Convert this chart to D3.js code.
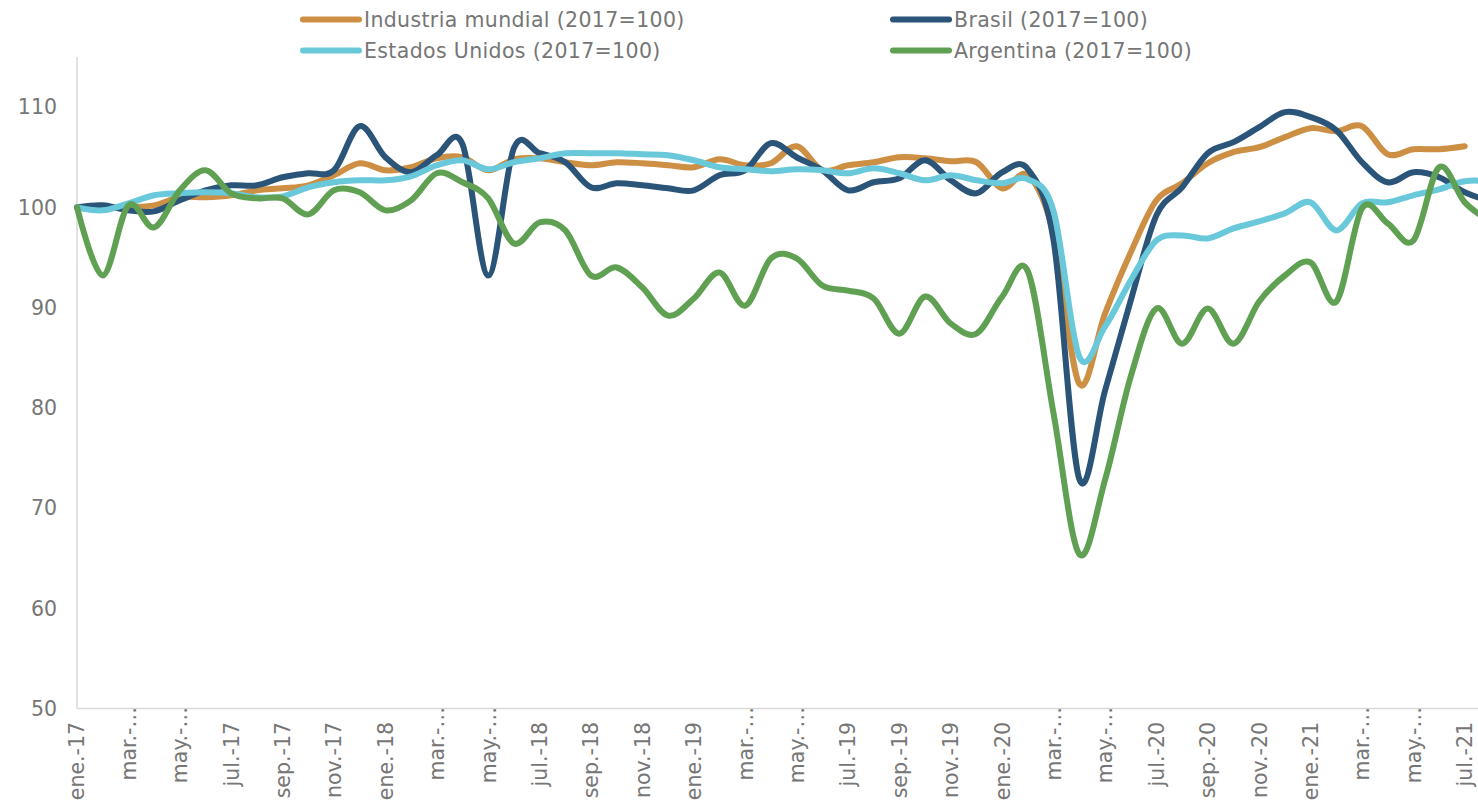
<!DOCTYPE html>
<html>
<head>
<meta charset="utf-8">
<script src="https://cdnjs.cloudflare.com/ajax/libs/d3/7.8.5/d3.min.js"></script>
<style>
  body { margin: 0; background: #fff; }
  svg { display: block; font-family: "DejaVu Sans", Verdana, sans-serif; }
</style>
</head>
<body>
<div id="container"></div>
<script>
// months from ene.-17 to ago.-21
const meses = ["ene.", "feb.", "mar.", "abr.", "may.", "jun.", "jul.", "ago.", "sep.", "oct.", "nov.", "dic."];
const categorias = [];
for (let a = 17; a <= 21; a++) {
  for (let m = 0; m < 12; m++) {
    if (a === 21 && m > 7) break;
    categorias.push(meses[m] + "-" + a);
  }
}

// labels as they show on the axis (mar / may get cut)
const etiquetas = ["ene.-17", "mar.-…", "may.-…", "jul.-17", "sep.-17", "nov.-17",
  "ene.-18", "mar.-…", "may.-…", "jul.-18", "sep.-18", "nov.-18",
  "ene.-19", "mar.-…", "may.-…", "jul.-19", "sep.-19", "nov.-19",
  "ene.-20", "mar.-…", "may.-…", "jul.-20", "sep.-20", "nov.-20",
  "ene.-21", "mar.-…", "may.-…", "jul.-21"];

const industria = [100, 99.9, 100, 100.2, 101.0, 101.0, 101.2, 101.7, 101.9, 102.2, 103.2, 104.4,
  103.7, 104.0, 104.9, 105.0, 103.7, 104.8, 104.9, 104.5, 104.2, 104.5, 104.4, 104.2,
  104.0, 104.8, 104.2, 104.4, 106.1, 103.7, 104.2, 104.5, 105.0, 104.9, 104.6, 104.5,
  101.9, 103.2, 97.4, 82.4, 89.4, 95.5, 100.7, 102.4, 104.4, 105.5, 106.0, 107.0,
  107.9, 107.6, 108.1, 105.3, 105.8, 105.8, 106.1];

const brasil = [100, 100.2, 99.7, 99.6, 100.7, 101.7, 102.2, 102.2, 103.0, 103.4, 103.7, 108.1,
  105.0, 103.5, 105.2, 106.3, 93.2, 105.9, 105.4, 104.5, 102.0, 102.4, 102.2, 101.9,
  101.7, 103.2, 103.7, 106.4, 105.0, 103.7, 101.7, 102.5, 102.9, 104.7, 102.7, 101.4,
  103.5, 103.8, 96.7, 72.9, 81.7, 90.7, 99.2, 102.0, 105.4, 106.5, 108.0, 109.5,
  109.0, 107.7, 104.5, 102.5, 103.5, 103.0, 101.5, 100.6];

const estadosUnidos = [100, 99.7, 100.4, 101.2, 101.4, 101.5, 101.4, 101.0, 101.1, 102.0, 102.5, 102.7,
  102.7, 103.1, 104.2, 104.7, 103.8, 104.5, 104.9, 105.4, 105.4, 105.4, 105.3, 105.2,
  104.7, 104.0, 103.8, 103.6, 103.8, 103.7, 103.4, 103.9, 103.4, 102.7, 103.2, 102.7,
  102.4, 102.8, 99.6, 85.1, 88.1, 92.7, 96.7, 97.2, 96.9, 97.9, 98.6, 99.4,
  100.5, 97.7, 100.4, 100.5, 101.2, 101.8, 102.6, 102.6];

const argentina = [100, 93.2, 100.2, 98.0, 101.7, 103.7, 101.4, 100.9, 100.9, 99.3, 101.7, 101.5,
  99.7, 100.7, 103.4, 102.5, 100.9, 96.4, 98.5, 97.7, 93.2, 94.0, 92.0, 89.2,
  90.9, 93.5, 90.2, 94.9, 94.9, 92.2, 91.7, 90.9, 87.4, 91.1, 88.4, 87.4,
  91.1, 93.6, 79.4, 65.4, 72.8, 83.1, 89.9, 86.4, 89.9, 86.4, 90.6, 93.2,
  94.5, 90.6, 99.9, 98.4, 96.7, 104.0, 100.5, 98.6];

const yTicks = [50, 60, 70, 80, 90, 100, 110];

const series = [
  { name: "Industria mundial (2017=100)", values: industria, color: "#cc8f43" },
  { name: "Brasil (2017=100)", values: brasil, color: "#2b5479" },
  { name: "Estados Unidos (2017=100)", values: estadosUnidos, color: "#69c9db" },
  { name: "Argentina (2017=100)", values: argentina, color: "#5fa053" }
];

const W = 1478, H = 807;
const plotLeft = 77, plotBottom = 708.5, plotTop = 57;
const step = 25.7;
const fontSize = 20.5;
const textColor = "#767676";

const x = d3.scalePoint()
  .domain(categorias)
  .range([plotLeft, plotLeft + step * (categorias.length - 1)]);

const y = d3.scaleLinear()
  .domain([50, 115])
  .range([plotBottom, plotTop]);

const svg = d3.select("#container")
  .append("svg")
  .attr("width", W)
  .attr("height", H)
  .attr("viewBox", [0, 0, W, H]);

// axis lines
svg.append("line")
  .attr("x1", plotLeft).attr("x2", plotLeft)
  .attr("y1", plotTop).attr("y2", plotBottom)
  .attr("stroke", "#d9d9d9").attr("stroke-width", 1.5);
svg.append("line")
  .attr("x1", plotLeft).attr("x2", W)
  .attr("y1", plotBottom).attr("y2", plotBottom)
  .attr("stroke", "#d9d9d9").attr("stroke-width", 1.5);

// y labels
svg.append("g")
  .selectAll("text")
  .data(yTicks)
  .join("text")
  .attr("x", 57)
  .attr("y", d => y(d))
  .attr("dy", "0.36em")
  .attr("text-anchor", "end")
  .attr("font-size", fontSize)
  .attr("fill", textColor)
  .text(d => d);

// x labels, every second month (cut labels sit closer to the axis)
const xLabelCats = categorias.filter((d, i) => i % 2 === 0 && i < 55);
svg.append("g")
  .selectAll("text")
  .data(xLabelCats)
  .join("text")
  .attr("transform", (d, i) => `translate(${x(d)},${etiquetas[i].endsWith("…") ? 707 : 722}) rotate(-90)`)
  .attr("dy", "0.36em")
  .attr("text-anchor", "end")
  .attr("font-size", fontSize)
  .attr("fill", textColor)
  .text((d, i) => etiquetas[i]);

// lines
const line = d3.line()
  .x((d, i) => x(categorias[i]))
  .y(d => y(d))
  .curve(d3.curveCardinal.tension(0));

svg.append("g")
  .selectAll("path")
  .data(series)
  .join("path")
  .attr("fill", "none")
  .attr("stroke", d => d.color)
  .attr("stroke-width", 6)
  .attr("stroke-linejoin", "round")
  .attr("stroke-linecap", "round")
  .attr("d", d => line(d.values));

// legend
const legendPos = [[303, 19.5], [893, 19.5], [303, 50.5], [893, 50.5]];
const legend = svg.append("g")
  .selectAll("g")
  .data(series)
  .join("g")
  .attr("transform", (d, i) => `translate(${legendPos[i][0]},${legendPos[i][1]})`);

legend.append("line")
  .attr("x1", 0).attr("x2", 56)
  .attr("stroke", d => d.color)
  .attr("stroke-width", 6)
  .attr("stroke-linecap", "round");

legend.append("text")
  .attr("x", 61)
  .attr("dy", "0.36em")
  .attr("font-size", fontSize)
  .attr("letter-spacing", 0.35)
  .attr("fill", textColor)
  .text(d => d.name);
</script>
</body>
</html>
